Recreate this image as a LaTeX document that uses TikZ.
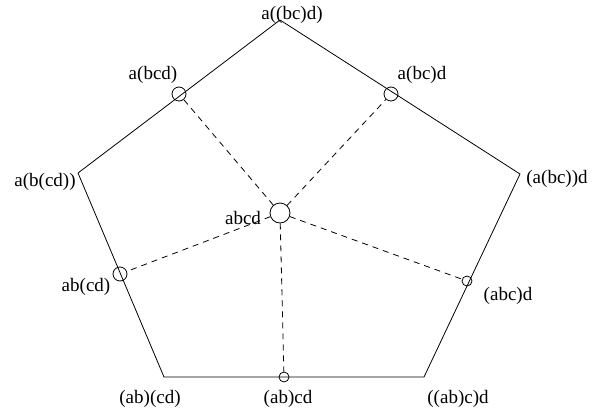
\documentclass[tikz,border=0pt]{standalone}
\usepackage{fontspec}
\setmainfont{Liberation Serif}
\usetikzlibrary{positioning}

\begin{document}
\begin{tikzpicture}[x=1pt, y=-1pt,
				edge/.style={line width=0.8pt},
				spoke/.style={line width=0.8pt, dash pattern=on 6pt off 5pt},
				dot/.style={draw, circle, line width=0.8pt, inner sep=0pt, minimum size=14pt},
				smalldot/.style={dot, minimum size=10pt},
				bigdot/.style={dot, minimum size=20pt},
				word/.style={font=\fontsize{19}{22}\selectfont, inner sep=0pt}
			]
			\useasboundingbox (0,0) rectangle (597,413);
			% Corners
			\coordinate (top) at (280,20);
			\coordinate (right) at (520,174);
			\coordinate (botright) at (424,377);
			\coordinate (botleft) at (164,377);
			\coordinate (left) at (78,173);
			\draw[edge] (top) -- (right) -- (botright) -- (botleft) -- (left) -- cycle;
			% Points on the edges
			\node[dot] (mtl) at (179,94) {};
			\node[dot] (mtr) at (391,94) {};
			\node[dot] (ml) at (120,274) {};
			\node[smalldot] (mr) at (467,281) {};
			\node[smalldot] (mb) at (284,377) {};
			\node[bigdot] (mid) at (280,213) {};
			% Spokes
			\foreach \m in {mtl, mtr, ml, mr, mb} {
					\draw[spoke] (mid) -- (\m);
				}
			% Corner labels
			\node[word] (ltop) at (292,15) {a((bc)d)};
			\node[word] (lright) at (557,179) {(a(bc))d};
			\node[word] (lbotright) at (458,399) {((ab)c)d};
			\node[word] (lbotleft) at (150,399) {(ab)(cd)};
			\node[word] (lleft) at (45,182) {a(b(cd))};
			% Edge labels
			\node[word] (lmtl) at (153,75) {a(bcd)};
			\node[word] (lmtr) at (422,75) {a(bc)d};
			\node[word] (lml) at (86,287) {ab(cd)};
			\node[word] (lmr) at (508,296) {(abc)d};
			\node[word] (lmb) at (288,399) {(ab)cd};
			\node[word] (lmid) at (243,218) {abcd};
		\end{tikzpicture}
\end{document}
